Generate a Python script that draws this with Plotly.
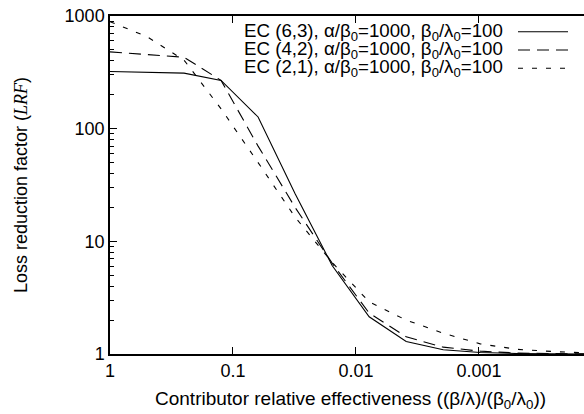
import plotly.graph_objects as go

# Data
x_vals = [1, 0.5, 0.25, 0.125, 0.0625, 0.03125, 0.015625, 0.0078125,
          0.00390625, 0.001953125, 0.0009765625, 0.00048828125,
          0.000244140625, 0.0001220703125]
lrf_63 = [322, 317, 311, 268, 127, 26.5, 6.1, 2.14, 1.29, 1.09, 1.03, 1.01, 1.0, 1.0]
lrf_42 = [480, 456, 430, 268, 70, 20, 6.4, 2.31, 1.42, 1.15, 1.06, 1.02, 1.01, 1.0]
lrf_21 = [890, 655, 406, 150, 50, 16.4, 6.5, 2.9, 2.0, 1.53, 1.23, 1.1, 1.05, 1.02]

series_names = [
    "EC (6,3), α/β<sub>0</sub>=1000, β<sub>0</sub>/λ<sub>0</sub>=100",
    "EC (4,2), α/β<sub>0</sub>=1000, β<sub>0</sub>/λ<sub>0</sub>=100",
    "EC (2,1), α/β<sub>0</sub>=1000, β<sub>0</sub>/λ<sub>0</sub>=100",
]
series_vals = [lrf_63, lrf_42, lrf_21]
dashes = ["solid", "12px,7px", "5px,9px"]

x_tickvals = [1, 0.1, 0.01, 0.001]
x_ticktext = ["1", "0.1", "0.01", "0.001"]
y_tickvals = [1, 10, 100, 1000]
y_ticktext = ["1", "10", "100", "1000"]
y_minor = [m * 10 ** e for e in range(0, 3) for m in range(2, 10)]

FONT = "Liberation Sans, Arial, Helvetica, sans-serif"

fig = go.Figure()
for name, vals, dash in zip(series_names, series_vals, dashes):
    fig.add_trace(go.Scatter(x=x_vals, y=vals, mode="lines", name=name,
                             line=dict(color="black", width=1.1, dash=dash),
                             showlegend=False))

L, R, T, B = 110, 0, 16, 60
W, H = 584, 414
pw, ph = W - L - R, H - T - B

def px_x(p):
    return (p - L) / pw

def px_y(p):
    return (H - B - p) / ph

# manual legend (text left, sample right, gnuplot style)
rows = [31.7, 50.0, 68.3]
for name, dash, ry in zip(series_names, dashes, rows):
    fig.add_annotation(x=px_x(505), y=px_y(ry), xref="paper", yref="paper",
                       text=name, showarrow=False, xanchor="right", yanchor="middle",
                       font=dict(family=FONT, size=18.7, color="black"))
    fig.add_shape(type="line", xref="paper", yref="paper",
                  x0=px_x(518), x1=px_x(568), y0=px_y(ry), y1=px_y(ry),
                  line=dict(color="black", width=1.1, dash=dash))

# axis titles
fig.add_annotation(x=px_x(350), y=px_y(400), xref="paper", yref="paper",
                   text="Contributor relative effectiveness ((β/λ)/(β<sub>0</sub>/λ<sub>0</sub>))",
                   showarrow=False, xanchor="center", yanchor="middle",
                   font=dict(family=FONT, size=19, color="black"))
fig.add_annotation(x=px_x(21), y=px_y(185), xref="paper", yref="paper",
                   text="Loss reduction factor (<span style='font-family:Liberation Serif, Times New Roman, serif'><i>LRF</i></span>)",
                   showarrow=False, xanchor="center", yanchor="middle", textangle=-90,
                   font=dict(family=FONT, size=18, color="black"))

fig.update_layout(
    width=W, height=H,
    margin=dict(l=L, r=R, t=T, b=B, pad=0),
    paper_bgcolor="white", plot_bgcolor="white",
    font=dict(family=FONT, size=18, color="black"),
    xaxis=dict(type="log", range=[0, -3.854], tickvals=x_tickvals, ticktext=x_ticktext,
               ticks="inside", ticklen=7, tickwidth=1, tickcolor="black",
               showline=True, linecolor="black", linewidth=1.5, mirror="ticks",
               showgrid=False, zeroline=False,
               tickfont=dict(family=FONT, size=18, color="black")),
    yaxis=dict(type="log", range=[0, 3], tickvals=y_tickvals, ticktext=y_ticktext,
               ticks="inside", ticklen=7, tickwidth=1, tickcolor="black",
               showline=True, linecolor="black", linewidth=1.5, mirror=False,
               showgrid=False, zeroline=False,
               minor=dict(tickvals=y_minor, ticks="inside", ticklen=4,
                          tickcolor="black", tickwidth=1, showgrid=False),
               tickfont=dict(family=FONT, size=18, color="black")),
)

fig.write_html("out.html")
